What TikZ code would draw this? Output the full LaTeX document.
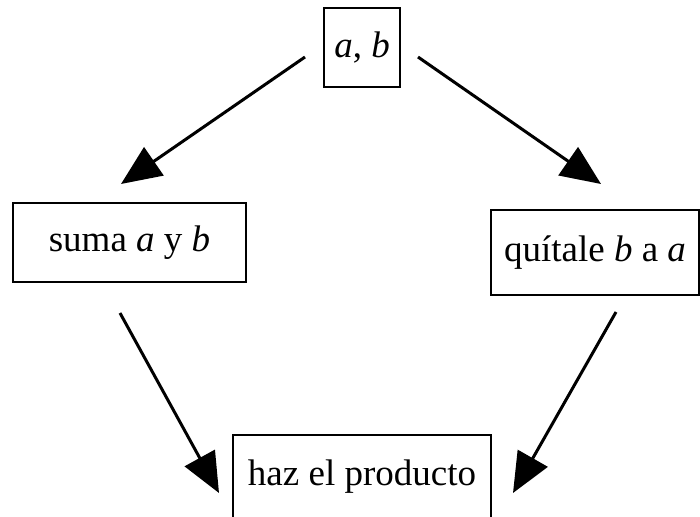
\documentclass[tikz,border=0pt]{standalone}
\usepackage{fontspec}
\setmainfont{Liberation Serif}
\usetikzlibrary{arrows.meta}
\begin{document}
\begin{tikzpicture}[x=1pt,y=-1pt,
  box/.style={draw,line width=2pt,inner sep=0pt,font=\fontsize{37}{42}\selectfont},
  arr/.style={line width=3pt,-{Triangle[length=40pt,width=34pt]}}]
\useasboundingbox (0,0) rectangle (700,516);
\node[box,minimum width=76pt,minimum height=79pt] (ab) at (362,47.5) {\textit{a}, \textit{b}};
\node[box,minimum width=233pt,minimum height=79pt] (suma) at (129.5,242.5) {suma \textit{a} y \textit{b}};
\node[box,minimum width=208pt,minimum height=85pt] (quit) at (595,252.5) {quítale \textit{b} a \textit{a}};
\node[box,minimum width=258pt,minimum height=84pt] (prod) at (362,477) {haz el producto};
\coordinate (s1) at (305,57);
\coordinate (e1) at (121,184);
\coordinate (s2) at (418,57);
\coordinate (e2) at (601,184);
\coordinate (s3) at (120,313);
\coordinate (e3) at (219,493);
\coordinate (s4) at (616,312);
\coordinate (e4) at (513,493);
\draw[arr] (s1) -- (e1);
\draw[arr] (s2) -- (e2);
\draw[arr] (s3) -- (e3);
\draw[arr] (s4) -- (e4);
\end{tikzpicture}
\end{document}
